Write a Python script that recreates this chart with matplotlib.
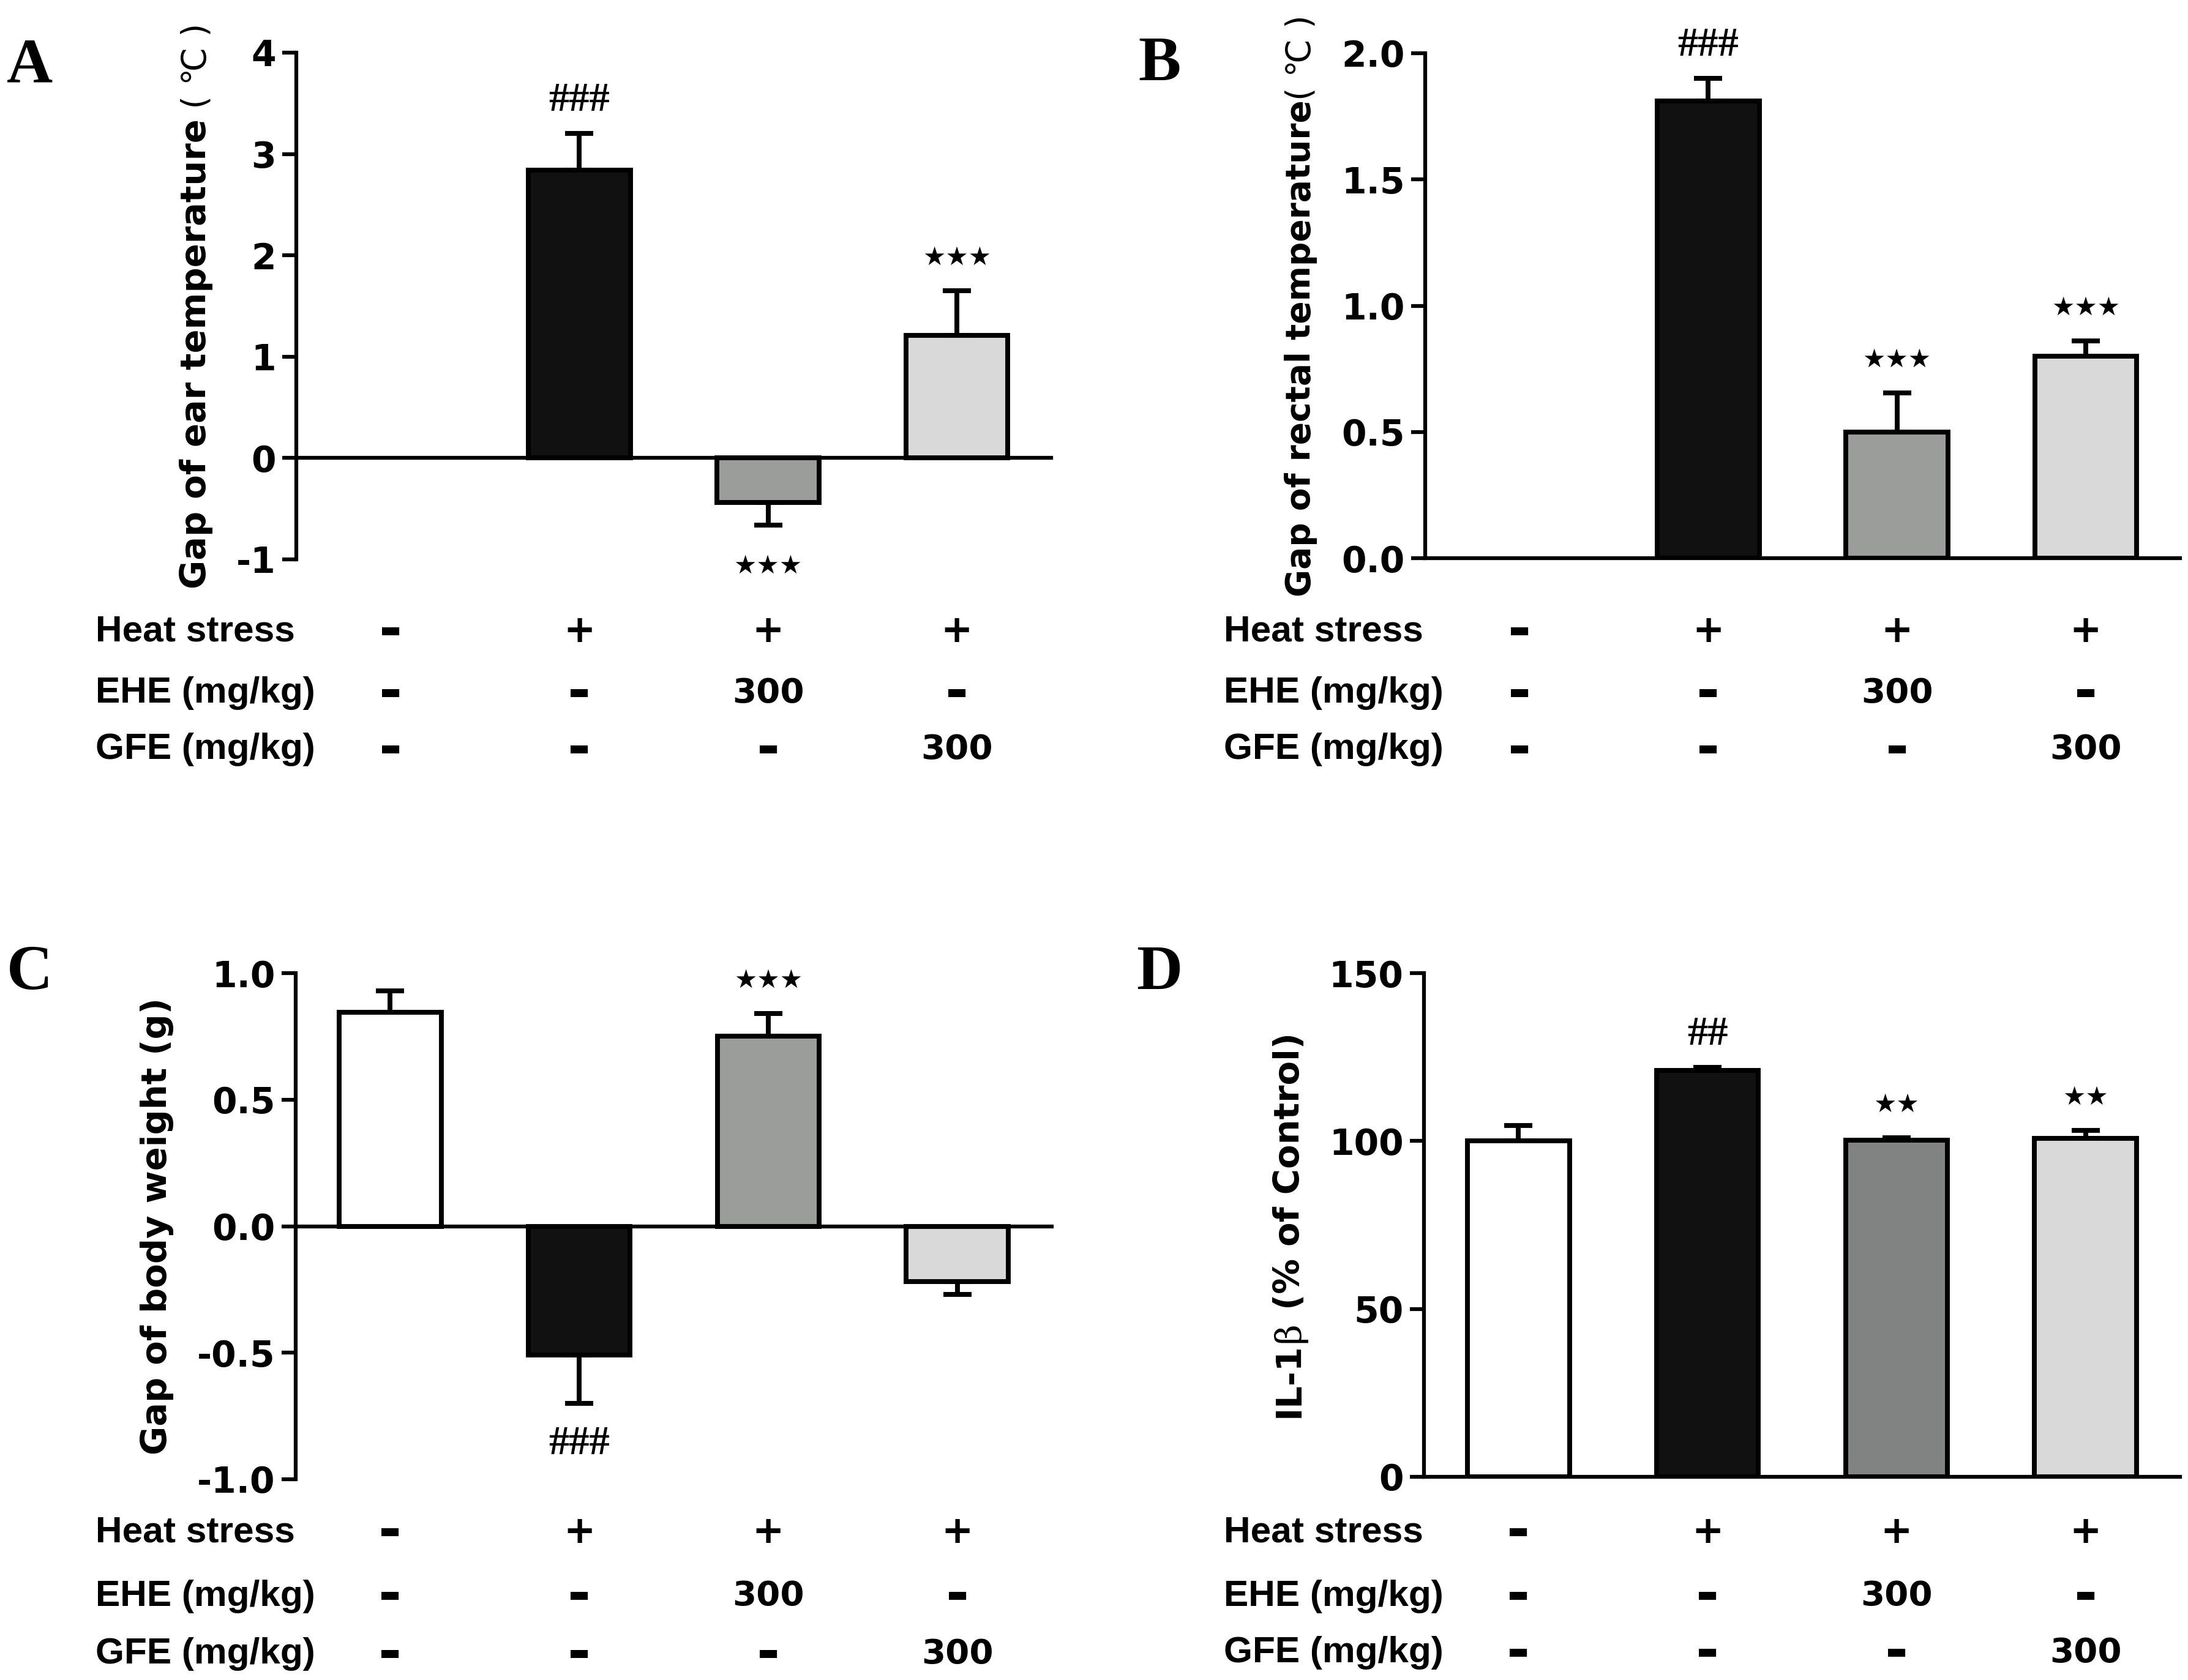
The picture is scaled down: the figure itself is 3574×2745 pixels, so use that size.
import matplotlib
matplotlib.use('Agg')
import matplotlib.pyplot as plt
import matplotlib.transforms as mtransforms
from matplotlib.ticker import FormatStrFormatter

plt.rcParams['axes.unicode_minus'] = False

W, H = 3574, 2745
DPI = 300

# table under every panel
row_labels = ['Heat stress', 'EHE (mg/kg)', 'GFE (mg/kg)']
heat_row = ['-', '+', '+', '+']
ehe_row = ['-', '-', '300', '-']
gfe_row = ['-', '-', '-', '300']

# A: ear temperature
ear_mean = [0.0, 2.84, -0.44, 1.21]
ear_sem = [0.0, 0.36, 0.22, 0.44]
ear_sig = ['', '###', '★★★', '★★★']

# B: rectal temperature
rectal_mean = [0.0, 1.81, 0.50, 0.80]
rectal_sem = [0.0, 0.09, 0.155, 0.06]
rectal_sig = ['', '###', '★★★', '★★★']

# C: body weight
weight_mean = [0.845, -0.51, 0.75, -0.22]
weight_sem = [0.085, 0.19, 0.09, 0.05]
weight_sig = ['', '###', '★★★', '']

# D: IL-1b
il1b_mean = [100.1, 121.0, 100.3, 100.7]
il1b_sem = [4.5, 0.9, 0.7, 2.4]
il1b_sig = ['', '##', '★★', '★★']

COL_ABC = ['white', '#111111', '#9b9d9b', '#d9d9d9']
COL_D = ['white', '#111111', '#818382', '#d9d9d9']

BOLD = dict(family='DejaVu Sans', weight='bold')
TAB = dict(family='Liberation Sans', weight='bold', size=14.5)
SYM = dict(family='DejaVu Sans', weight='bold', size=15)
IDT = mtransforms.IdentityTransform()

fig = plt.figure(figsize=(W / DPI, H / DPI), dpi=DPI)
renderer = fig.canvas.get_renderer()


def px_rect(left, right, top, bottom):
    return [left / W, (H - bottom) / H, (right - left) / W, (bottom - top) / H]


def stacked_label(ax, pieces, x_px):
    """rotated y label made of pieces with different fonts (shared baseline)"""
    bb = ax.get_position()
    yc = (bb.y0 + bb.y1) / 2 * H
    texts = [fig.text(0, 0, s, rotation=90, rotation_mode='anchor', ha='left',
                      va='baseline', transform=IDT, **kw) for s, kw in pieces]
    lens = [t.get_window_extent(renderer).height for t in texts]
    y = yc - sum(lens) / 2
    for t, L in zip(texts, lens):
        t.set_position((x_px, y))
        y += L


def panel(rect, mean, sem, sig, colors, ylim, yticks, fmt, label, label_x,
          letter, letter_xy, tab_x, tab_y):
    ax = fig.add_axes(px_rect(*rect))
    x = list(range(len(mean)))
    for i in x:
        if mean[i] == 0:
            continue
        ax.bar(i, mean[i], width=0.54, color=colors[i], edgecolor='black',
               linewidth=1.9, zorder=3)
        if sem[i] > 0:
            if mean[i] > 0:
                err = [[0], [sem[i]]]
            else:
                err = [[sem[i]], [0]]
            ax.errorbar(i, mean[i], yerr=err, fmt='none', ecolor='black',
                        elinewidth=1.9, capsize=5.5, capthick=1.9, zorder=2)
        if sig[i]:
            up = mean[i] > 0
            end = mean[i] + sem[i] if up else mean[i] - sem[i]
            if '#' in sig[i]:
                kw = dict(family='Liberation Serif', weight='bold', size=16)
            else:
                kw = dict(family='DejaVu Sans', size=10)
            ax.annotate(sig[i], xy=(i, end), xytext=(0, 13 if up else -16),
                        textcoords='offset points', ha='center', va='center',
                        **kw)
    ax.set_xlim(-0.5, 3.5)
    ax.set_ylim(*ylim)
    ax.set_yticks(yticks)
    ax.yaxis.set_major_formatter(FormatStrFormatter(fmt))
    for lab in ax.get_yticklabels():
        lab.set_fontproperties(matplotlib.font_manager.FontProperties(
            family='DejaVu Sans', weight='bold', size=14))
    ax.set_xticks([])
    for s in ('top', 'right'):
        ax.spines[s].set_visible(False)
    ax.spines['bottom'].set_position(('data', 0))
    ax.spines['left'].set_linewidth(1.5)
    ax.spines['bottom'].set_linewidth(1.5)
    ax.tick_params(axis='y', length=5.5, width=1.5, pad=2.5)
    ax.set_facecolor('none')

    stacked_label(ax, label, label_x)
    fig.text(letter_xy[0], H - letter_xy[1], letter, transform=IDT,
             ha='center', va='center', family='Liberation Serif',
             weight='bold', size=25)

    blend = mtransforms.blended_transform_factory(ax.transData, IDT)
    for r, (name, row) in enumerate(zip(row_labels, [heat_row, ehe_row, gfe_row])):
        yy = H - tab_y[r]
        fig.text(tab_x, yy, name, transform=IDT, ha='left', va='center', **TAB)
        for i, v in enumerate(row):
            kw = dict(SYM)
            if v == '300':
                kw['size'] = 13.5
            elif v == '-':
                kw['size'] = 22
            ax.text(i, yy, v, transform=blend, ha='center', va='center',
                    clip_on=False, **kw)
    return ax


LBL = dict(BOLD, size=13.8)
LBL_B = dict(BOLD, size=13.2)
DEG = dict(family='DejaVu Sans', weight='normal', size=13.2)

panel((484, 1717, 86, 914), ear_mean, ear_sem, ear_sig, COL_ABC,
      (-1, 4), [-1, 0, 1, 2, 3, 4], '%d',
      [('Gap of ear temperature', LBL), (' ( ℃ )', DEG)], 336,
      'A', (49, 110), 156, (1032, 1133, 1225))

panel((2328, 3561, 87, 912), rectal_mean, rectal_sem, rectal_sig, COL_ABC,
      (0, 2), [0, 0.5, 1.0, 1.5, 2.0], '%.1f',
      [('Gap of rectal temperature', LBL_B), ('( ℃ )', DEG)], 2140,
      'B', (1894, 106), 1999, (1032, 1133, 1225))

panel((483, 1718, 1590, 2417), weight_mean, weight_sem, weight_sig, COL_ABC,
      (-1, 1), [-1.0, -0.5, 0.0, 0.5, 1.0], '%.1f',
      [('Gap of body weight (g)', LBL)], 272,
      'C', (49, 1591), 156, (2504, 2608, 2703))

panel((2326, 3561, 1590, 2413), il1b_mean, il1b_sem, il1b_sig, COL_D,
      (0, 150), [0, 50, 100, 150], '%d',
      [('IL-1', LBL), ('β', dict(family='DejaVu Serif', size=14)),
       (' (% of Control)', LBL)], 2122,
      'D', (1894, 1591), 1999, (2504, 2608, 2701))

fig.savefig('out.png', dpi=DPI)
